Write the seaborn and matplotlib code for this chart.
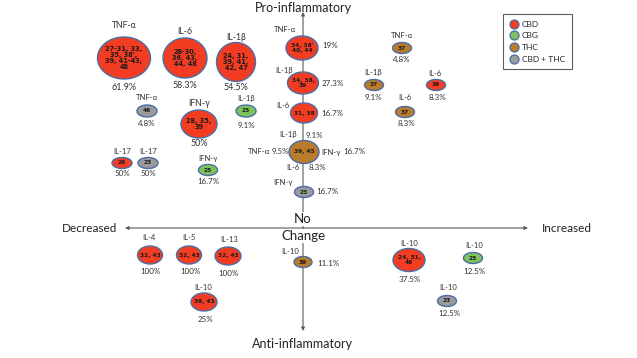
import numpy as np
import pandas as pd
import seaborn as sns
import matplotlib.pyplot as plt
from matplotlib.path import Path
from matplotlib.lines import Line2D

# --- chart content ---
cytokines = ["TNF-α", "IL-6", "IL-1β", "TNF-α", "IFN-γ", "IL-1β", "IL-17", "IL-17", "IFN-γ",
             "TNF-α", "IL-1β", "IL-6", "", "IFN-γ",
             "TNF-α", "IL-1β", "IL-6", "IL-6",
             "IL-4", "IL-5", "IL-13", "IL-10", "IL-10", "IL-10", "IL-10", "IL-10"]
refs = ["27-31, 33,\n35, 38',\n39, 41-43,\n48", "28-30,\n36, 43,\n44, 48", "24, 31,\n39, 41,\n42, 47",
        "46", "28, 35,\n39", "25", "26", "23", "25",
        "34, 38'\n40, 44", "34, 38,\n39", "31, 38", "39, 45", "23",
        "37", "37", "37", "39",
        "32, 43", "32, 43", "32, 43", "39, 43", "39", "24, 31,\n48", "25", "23"]
percents = ["61.9%", "58.3%", "54.5%", "4.8%", "50%", "9.1%", "50%", "50%", "16.7%",
            "19%", "27.3%", "16.7%", "", "16.7%",
            "4.8%", "9.1%", "8.3%", "8.3%",
            "100%", "100%", "100%", "25%", "11.1%", "37.5%", "12.5%", "12.5%"]
groups = ["CBD", "CBD", "CBD", "CBD + THC", "CBD", "CBG", "CBD", "CBD + THC", "CBG",
          "CBD", "CBD", "CBD", "THC", "CBD + THC",
          "THC", "THC", "THC", "CBD",
          "CBD", "CBD", "CBD", "CBD", "THC", "CBD", "CBG", "CBD + THC"]
# the shared THC bubble (39, 45) on the centre line carries four results
shared_cyto = ["IL-1β", "TNF-α", "IFN-γ", "IL-6"]
shared_pct = ["9.1%", "9.5%", "16.7%", "8.3%"]

group_order = ["CBD", "CBG", "THC", "CBD + THC"]
palette = {"CBD": "#F23D23", "CBG": "#7DC35B", "THC": "#B97C2C", "CBD + THC": "#9B9B9B"}
edge = "#4A6DA7"

# --- layout (pixel positions on the 637x358 canvas) ---
bx = [124, 185, 236, 147, 199, 246, 122, 148, 208,
      302, 303, 304, 304, 304,
      402, 374, 405, 436,
      150, 189, 228, 204, 303, 409, 473, 447]
by = [58, 58, 62, 111, 124, 111, 163, 163, 170,
      48, 83, 113, 152, 192,
      48, 85, 112, 85,
      255, 255, 256, 302, 262, 260, 258, 301]
bw = [53, 44, 39, 20, 36, 20, 20, 20, 19,
      32, 31, 27, 30, 19,
      19, 19, 19, 19,
      25, 25, 26, 26, 18, 32, 19, 19]
bh = [42, 40, 39, 12, 28, 12, 11, 11, 11,
      24, 22, 20, 23, 11,
      11, 11, 11, 11,
      18, 18, 18, 18, 11, 23, 11, 11]
# label (above) and percentage (below) positions
lab_xy = [(124, 25), (185, 32), (236, 38), (147, 98), (199, 103), (246, 98), (122, 152), (148, 152), (208, 158),
          (285, 30), (284, 71), (283, 105), None, (283, 182),
          (402, 35), (373, 73), (405, 98), (435, 73),
          (149, 238), (189, 238), (229, 239), (203, 287), (290, 252), (409, 243), (474, 246), (448, 288)]
pct_xy = [(124, 87), (185, 85), (236, 88), (147, 123), (199, 144), (246, 125), (122, 174), (148, 174), (208, 182),
          (330, 46), (333, 83), (332, 114), None, (327, 192),
          (402, 60), (373, 97), (406, 123), (437, 97),
          (150, 272), (190, 272), (228, 273), (205, 319), (328, 263), (410, 279), (474, 272), (449, 313)]
shared_lab_xy = [(288, 135), (259, 152), (331, 152), (293, 168)]
shared_pct_xy = [(314, 135), (280, 152), (354, 152), (317, 168)]


def ellipse_marker(ratio):
    t = np.linspace(0, 2 * np.pi, 80)
    verts = np.column_stack([np.cos(t), ratio * np.sin(t)])
    return Path(verts, closed=True)


df = pd.DataFrame({"x": bx, "y": by, "w": bw, "h": bh, "group": groups})
df["bid"] = [f"b{i}" for i in range(len(df))]
px_to_pt = 72 / 100
sizes = {b: (w * px_to_pt) ** 2 for b, w in zip(df["bid"], df["w"])}
markers = {b: ellipse_marker(h / w) for b, w, h in zip(df["bid"], df["w"], df["h"])}

sns.set_theme(style="white")
plt.rcParams["font.family"] = ["Lato", "DejaVu Sans"]

fig = plt.figure(figsize=(6.37, 3.58), dpi=100)
ax = fig.add_axes([0, 0, 1, 1])

# axes arrows
arrow = dict(arrowstyle="<|-|>", color="#5a5a5a", lw=0.8, mutation_scale=5, shrinkA=0, shrinkB=0)
ax.annotate("", xy=(303, 12), xytext=(303, 331), arrowprops=arrow, zorder=0)
ax.annotate("", xy=(125, 228), xytext=(528, 228), arrowprops=arrow, zorder=0)

sns.scatterplot(data=df, x="x", y="y", hue="group", palette=palette,
                size="bid", sizes=sizes, style="bid", markers=markers,
                edgecolor=edge, linewidth=1.0, legend=False, ax=ax, zorder=2)

txt = "#333333"
for i in range(len(df)):
    big = bw[i] > 35
    ax.text(bx[i], by[i], refs[i], ha="center", va="center", fontsize=4.7 if big else 4.2,
            fontweight="bold", color="#1a1a1a", linespacing=1.05, zorder=3,
            family=["DejaVu Sans"])
    if lab_xy[i] is not None:
        ax.text(*lab_xy[i], cytokines[i], ha="center", va="center",
                fontsize=6.2 if big else 5.5, color=txt)
        ax.text(*pct_xy[i], percents[i], ha="center", va="center",
                fontsize=6.5 if big else 5.8, color=txt)

for c, p, lxy, pxy in zip(shared_cyto, shared_pct, shared_lab_xy, shared_pct_xy):
    ax.text(*lxy, c, ha="center", va="center", fontsize=5.5, color=txt)
    ax.text(*pxy, p, ha="center", va="center", fontsize=5.8, color=txt)

# axis titles
ax.text(303, 8, "Pro-inflammatory", ha="center", va="center", fontsize=9, color="#222222")
ax.text(303, 344, "Anti-inflammatory", ha="center", va="center", fontsize=9, color="#222222")
ax.text(90, 228, "Decreased", ha="center", va="center", fontsize=8.5, color="#222222")
ax.text(567, 228, "Increased", ha="center", va="center", fontsize=8.5, color="#222222")
ax.text(303, 219, "No", ha="center", va="center", fontsize=9.5, color="#222222",
        bbox=dict(facecolor="white", edgecolor="none", pad=0.5), zorder=1)
ax.text(303, 236, "Change", ha="center", va="center", fontsize=9.5, color="#222222",
        bbox=dict(facecolor="white", edgecolor="none", pad=0.5), zorder=1)

handles = [Line2D([], [], marker="o", ls="", markerfacecolor=palette[g], markeredgecolor=edge,
                  markeredgewidth=0.9, markersize=6.5, label=g) for g in group_order]
leg = ax.legend(handles=handles, loc="upper right", bbox_to_anchor=(576 / 637, 1 - 10 / 358),
                fontsize=6, frameon=True, fancybox=False, handlelength=1.0, handletextpad=0.5,
                labelspacing=0.55, borderpad=0.8)
leg.get_frame().set_edgecolor("#333333")
leg.get_frame().set_linewidth(0.8)

ax.set_xlim(0, 637)
ax.set_ylim(358, 0)
ax.axis("off")

fig.savefig("out.png", dpi=100)
